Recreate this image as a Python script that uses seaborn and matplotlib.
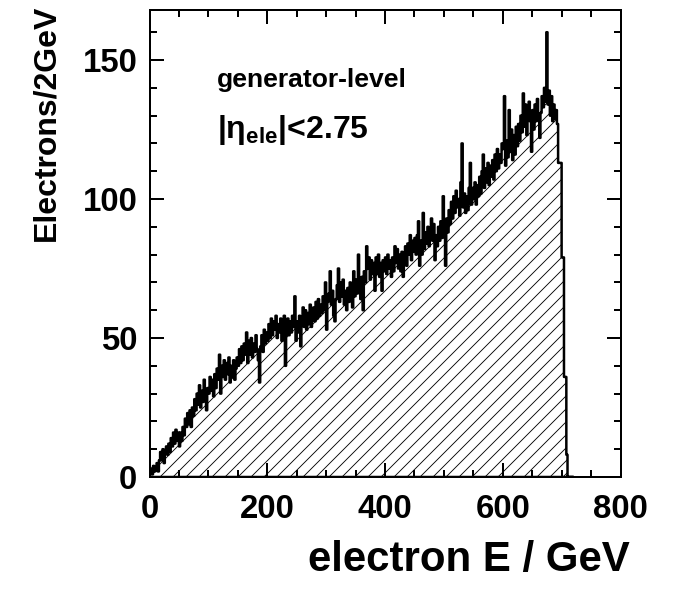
import numpy as np
import pandas as pd
import matplotlib
matplotlib.use("Agg")
import matplotlib.pyplot as plt
from matplotlib.ticker import MultipleLocator
import seaborn as sns

# ---- data: electrons per 2 GeV bin, starting at 0 GeV ----
bin_width = 2
counts = [
    1, 3, 1, 4, 2, 3, 5, 2, 6, 9, 6, 10, 5, 9, 11, 8, 12, 9, 14, 11, 16, 12, 17, 13, 16,
    11, 16, 13, 18, 15, 21, 18, 23, 19, 24, 18, 25, 22, 28, 24, 30, 26, 33, 25, 31, 27, 35, 29, 24, 32,
    30, 36, 31, 35, 29, 37, 32, 39, 35, 44, 30, 40, 36, 42, 35, 41, 37, 43, 34, 40, 36, 42, 35, 39, 43,
    40, 46, 41, 47, 42, 48, 44, 52, 41, 49, 44, 50, 43, 48, 45, 51, 46, 42, 34, 47, 51, 45, 53, 48, 52,
    49, 55, 50, 57, 51, 56, 53, 58, 50, 55, 52, 57, 49, 54, 58, 40, 53, 57, 51, 56, 52, 58, 54, 65, 49,
    56, 52, 58, 47, 55, 61, 54, 60, 53, 59, 55, 62, 54, 58, 61, 56, 63, 57, 64, 58, 62, 59, 65, 60, 70,
    53, 63, 66, 74, 62, 67, 58, 56, 64, 69, 75, 63, 70, 65, 71, 62, 67, 60, 68, 63, 70, 64, 61, 74, 65,
    71, 66, 80, 69, 64, 72, 60, 74, 70, 83, 75, 79, 71, 78, 73, 77, 67, 79, 73, 80, 72, 77, 67, 78, 74,
    79, 73, 80, 75, 78, 72, 79, 74, 83, 77, 82, 75, 80, 74, 81, 72, 79, 83, 76, 84, 80, 87, 78, 85, 81,
    86, 80, 87, 92, 76, 85, 80, 95, 82, 88, 84, 90, 83, 89, 93, 85, 91, 78, 87, 83, 90, 85, 92, 86, 101,
    89, 76, 93, 88, 96, 91, 99, 93, 101, 95, 103, 97, 100, 94, 106, 120, 97, 102, 95, 101, 96, 104, 113, 98, 104,
    100, 106, 98, 105, 101, 108, 102, 110, 116, 104, 111, 106, 113, 105, 112, 108, 114, 107, 116, 110, 118, 111, 116, 113, 120,
    118, 137, 112, 121, 115, 132, 117, 125, 114, 123, 116, 126, 119, 127, 121, 130, 124, 138, 126, 134, 123, 131, 135, 128, 117,
    132, 125, 134, 128, 136, 129, 122, 131, 137, 133, 140, 135, 160, 134, 139, 130, 137, 128, 134, 129, 132, 127, 113, 113, 113,
    79, 79, 36, 36, 8, 0, 0, 0, 0, 0,
]
x_ticks = [0, 200, 400, 600, 800]
y_ticks = [0, 50, 100, 150]
x_label = "electron E / GeV"
y_label = "Electrons/2GeV"
text_level = "generator-level"
text_eta = r"|$\mathbf{\eta}_{\mathbf{ele}}$|<2.75"

e_max = bin_width * len(counts)
centers = np.arange(len(counts)) * bin_width + bin_width / 2
df = pd.DataFrame({"E": centers, "n": counts})

DPI = 78
sns.set_theme(style="ticks")
plt.rcParams["font.family"] = ["Liberation Sans", "DejaVu Sans"]
plt.rcParams["font.weight"] = "bold"
plt.rcParams["mathtext.fontset"] = "custom"
plt.rcParams["mathtext.rm"] = "Liberation Sans:bold"
plt.rcParams["mathtext.it"] = "Liberation Sans:bold"
plt.rcParams["mathtext.bf"] = "Liberation Sans:bold"
plt.rcParams["hatch.linewidth"] = 0.8
plt.rcParams["hatch.color"] = "black"
for key in ["text.color", "axes.labelcolor", "xtick.color", "ytick.color", "axes.edgecolor"]:
    plt.rcParams[key] = "black"

pt = 72 / DPI  # points per pixel
fig = plt.figure(figsize=(675 / DPI, 590 / DPI), dpi=DPI)
ax = fig.add_axes([149.5 / 675, 113 / 590, 471 / 675, 467 / 590])

sns.histplot(data=df, x="E", weights="n", binwidth=bin_width, binrange=(0, e_max),
             element="step", fill=True,
             color="black", facecolor="none", edgecolor="black", linewidth=2.5 * pt,
             hatch="//", ax=ax)

ax.set_xlim(0, 800)
ax.set_ylim(0, 168)
ax.set_xticks(x_ticks)
ax.set_yticks(y_ticks)
ax.xaxis.set_minor_locator(MultipleLocator(50))
ax.yaxis.set_minor_locator(MultipleLocator(10))
ax.tick_params(which="both", direction="in", top=True, right=True, width=2 * pt, color="black")
ax.tick_params(which="major", length=14 * pt)
ax.tick_params(which="minor", length=7 * pt)
ax.tick_params(axis="x", which="major", pad=17 * pt, labelsize=33 * pt, labelcolor="black")
ax.tick_params(axis="y", which="major", pad=12 * pt, labelsize=33 * pt, labelcolor="black")
for lab in ax.get_xticklabels() + ax.get_yticklabels():
    lab.set_fontweight("bold")
for s in ax.spines.values():
    s.set_linewidth(2 * pt)
    s.set_color("black")

ax.set_xlabel(x_label, fontsize=42 * pt, fontweight="bold", color="black")
ax.xaxis.set_label_coords((630 - 149.5) / 471, (477 - 560) / 467)
ax.xaxis.label.set_horizontalalignment("right")
ax.xaxis.label.set_verticalalignment("center")

ax.set_ylabel(y_label, fontsize=32 * pt, fontweight="bold", color="black")
ax.yaxis.set_label_coords((46 - 149.5) / 471, (477 - 5) / 467)
ax.yaxis.label.set_horizontalalignment("right")
ax.yaxis.label.set_verticalalignment("center")

ax.text((217 - 149.5) / 471, (477 - 87) / 467, text_level, transform=ax.transAxes,
        fontsize=26.5 * pt, fontweight="bold", ha="left", va="baseline", color="black")
ax.text((217 - 149.5) / 471, (477 - 138) / 467, text_eta, transform=ax.transAxes,
        fontsize=32 * pt, fontweight="bold", ha="left", va="baseline", color="black")

fig.savefig("out.png", dpi=DPI)
